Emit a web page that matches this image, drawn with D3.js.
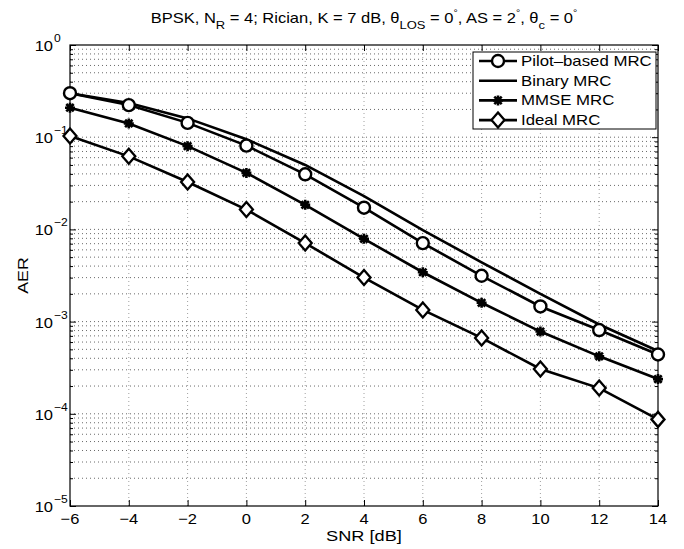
<!DOCTYPE html>
<html>
<head>
<meta charset="utf-8">
<title>AER vs SNR</title>
<script src="https://cdn.jsdelivr.net/npm/d3@7"></script>
<style>
body { margin: 0; background: #fff; }
text { font-family: "Liberation Sans", Arial, sans-serif; fill: #000; }
</style>
</head>
<body>
<div class="container"></div>
<script>
// data
var snr = [-6, -4, -2, 0, 2, 4, 6, 8, 10, 12, 14];
var pilot  = [0.30, 0.223, 0.143, 0.081, 0.0396, 0.0172, 0.0071, 0.00314, 0.00146, 0.00081, 0.00044];
var binary = [0.30, 0.235, 0.160, 0.095, 0.050, 0.023, 0.0098, 0.0044, 0.0020, 0.00093, 0.00048];
var mmse   = [0.209, 0.141, 0.080, 0.041, 0.0185, 0.0079, 0.00343, 0.0016, 0.00078, 0.00042, 0.000238];
var ideal  = [0.103, 0.062, 0.0327, 0.0164, 0.0071, 0.0030, 0.00134, 0.000665, 0.000306, 0.00019, 0.000087];
var xTicks = [-6, -4, -2, 0, 2, 4, 6, 8, 10, 12, 14];
var yExps  = [0, -1, -2, -3, -4, -5];
var legendNames = ["Pilot\u2013based MRC", "Binary MRC", "MMSE MRC", "Ideal MRC"];

var width = 684, height = 549;
var pl = 70, pr = 658, pt = 45, pb = 506;   // plot box edges

var x = d3.scaleLinear().domain([-6, 14]).range([pl, pr]);
var y = d3.scaleLog().domain([1e-5, 1]).range([pb, pt]);

var svg = d3.select(".container").append("svg")
    .attr("width", width)
    .attr("height", height);

var yMajor = yExps.map(function (e) { return Math.pow(10, e); });
var yMinor = [];
yExps.slice(1).forEach(function (e) {
    for (var k = 2; k <= 9; k++) yMinor.push(k * Math.pow(10, e));
});

// grid (dotted), major + minor on y, major on x
var grid = svg.append("g").attr("class", "grid")
    .attr("stroke", "#444").attr("stroke-width", 0.8)
    .attr("stroke-dasharray", "1,3");
grid.selectAll("line.gx").data(xTicks.slice(1, -1)).enter().append("line")
    .attr("x1", function (d) { return x(d); }).attr("x2", function (d) { return x(d); })
    .attr("y1", pt).attr("y2", pb).attr("stroke", "#888");
grid.selectAll("line.gy").data(yMajor.slice(1, -1).concat(yMinor)).enter().append("line")
    .attr("x1", pl).attr("x2", pr)
    .attr("y1", function (d) { return y(d); }).attr("y2", function (d) { return y(d); });

// axes with inward ticks on all sides
function styleAxis(g) {
    g.select(".domain").remove();
    g.selectAll("line").attr("stroke", "#000").attr("stroke-width", 1);
    g.selectAll("text").remove();
}
svg.append("g").attr("transform", "translate(0," + pb + ")")
    .call(d3.axisBottom(x).tickValues(xTicks).tickSize(-6))
    .call(styleAxis);
svg.append("g").attr("transform", "translate(0," + pt + ")")
    .call(d3.axisTop(x).tickValues(xTicks).tickSize(-6))
    .call(styleAxis);
svg.append("g").attr("transform", "translate(" + pl + ",0)")
    .call(d3.axisLeft(y).tickValues(yMajor).tickSize(-6))
    .call(styleAxis);
svg.append("g").attr("transform", "translate(" + pl + ",0)")
    .call(d3.axisLeft(y).tickValues(yMinor).tickSize(-3))
    .call(styleAxis);
svg.append("g").attr("transform", "translate(" + pr + ",0)")
    .call(d3.axisRight(y).tickValues(yMajor).tickSize(-6))
    .call(styleAxis);
svg.append("g").attr("transform", "translate(" + pr + ",0)")
    .call(d3.axisRight(y).tickValues(yMinor).tickSize(-3))
    .call(styleAxis);

// box
svg.append("rect").attr("x", pl).attr("y", pt)
    .attr("width", pr - pl).attr("height", pb - pt)
    .attr("fill", "none").attr("stroke", "#000").attr("stroke-width", 1.2);

// x tick labels
svg.append("g").selectAll("text").data(xTicks).enter().append("text")
    .attr("transform", function (d) { return "translate(" + x(d) + ",524) scale(1.1,1)"; })
    .attr("text-anchor", "middle").style("font-size", "15px")
    .text(function (d) { return d < 0 ? "\u2212" + (-d) : d; });

// y tick labels 10^e
var yl = svg.append("g");
yExps.forEach(function (e) {
    var yy = y(Math.pow(10, e));
    yl.append("text").attr("transform", "translate(53," + (yy + 6) + ") scale(1.1,1)")
        .attr("text-anchor", "end").style("font-size", "15px").text("10");
    yl.append("text").attr("transform", "translate(54," + (yy - 3) + ") scale(1.1,1)")
        .style("font-size", "11px")
        .text(e === 0 ? "0" : "\u2212" + (-e));
});

// axis titles
svg.append("text").attr("transform", "translate(" + ((pl + pr) / 2) + ",541) scale(1.3,1)")
    .attr("text-anchor", "middle").style("font-size", "14px").text("SNR [dB]");
svg.append("text").attr("transform", "translate(28," + ((pt + pb) / 2) + ") rotate(-90) scale(1.27,1)")
    .attr("text-anchor", "middle").style("font-size", "14px").text("AER");

// title with sub/superscripts
var title = svg.append("text")
    .attr("transform", "translate(" + ((pl + pr) / 2) + ",23) scale(1.18,1)")
    .attr("text-anchor", "middle").style("font-size", "14px");
function part(txt, shift, size) {
    var t = title.append("tspan").text(txt);
    if (shift) t.attr("dy", shift);
    if (size) t.style("font-size", size);
    return t;
}
part("BPSK, N");
part("R", 6, "11px");
part(" = 4; Rician, K = 7 dB, \u03b8", -6);
part("LOS", 6, "11px");
part(" = 0", -6);
part("\u00b0", -7, "9px");
part(", AS = 2", 7);
part("\u00b0", -7, "9px");
part(", \u03b8", 7);
part("c", 6, "11px");
part(" = 0", -6);
part("\u00b0", -7, "9px");

// series
var line = d3.line().x(function (d) { return x(d[0]); }).y(function (d) { return y(d[1]); });
function pairs(vals) { return snr.map(function (s, i) { return [s, vals[i]]; }); }

var series = [
    {name: legendNames[0], vals: pilot, marker: "circle"},
    {name: legendNames[1], vals: binary, marker: "none"},
    {name: legendNames[2], vals: mmse, marker: "star"},
    {name: legendNames[3], vals: ideal, marker: "diamond"}
];

function drawMarker(g, type, cx, cy) {
    if (type === "circle") {
        g.append("circle").attr("cx", cx).attr("cy", cy).attr("r", 6)
            .attr("fill", "#fff").attr("stroke", "#000").attr("stroke-width", 2.4);
    } else if (type === "diamond") {
        g.append("path")
            .attr("d", "M" + cx + "," + (cy - 7.5) + "L" + (cx + 6.5) + "," + cy +
                "L" + cx + "," + (cy + 7.5) + "L" + (cx - 6.5) + "," + cy + "Z")
            .attr("fill", "#fff").attr("stroke", "#000").attr("stroke-width", 2.3);
    } else if (type === "star") {
        var r = 5, q = 3.7;
        g.append("path")
            .attr("d", "M" + (cx - r) + "," + cy + "L" + (cx + r) + "," + cy +
                "M" + cx + "," + (cy - r) + "L" + cx + "," + (cy + r) +
                "M" + (cx - q) + "," + (cy - q) + "L" + (cx + q) + "," + (cy + q) +
                "M" + (cx - q) + "," + (cy + q) + "L" + (cx + q) + "," + (cy - q))
            .attr("fill", "none").attr("stroke", "#000").attr("stroke-width", 2.6);
    }
}

var plot = svg.append("g");
series.forEach(function (s) {
    plot.append("path").datum(pairs(s.vals))
        .attr("d", line).attr("fill", "none")
        .attr("stroke", "#000").attr("stroke-width", 2.6);
});
series.forEach(function (s) {
    pairs(s.vals).forEach(function (p) {
        drawMarker(plot, s.marker, x(p[0]), y(p[1]));
    });
});

// legend
var lg = svg.append("g");
lg.append("rect").attr("x", 473).attr("y", 52).attr("width", 183).attr("height", 77)
    .attr("fill", "#fff").attr("stroke", "#000").attr("stroke-width", 1);
series.forEach(function (s, i) {
    var ly = 61 + i * 19.7;
    lg.append("line").attr("x1", 479).attr("x2", 517).attr("y1", ly).attr("y2", ly)
        .attr("stroke", "#000").attr("stroke-width", 2.6);
    drawMarker(lg, s.marker, 498, ly);
    lg.append("text").attr("transform", "translate(521," + (ly + 5) + ") scale(1.2,1)")
        .style("font-size", "14px").text(s.name);
});
</script>
</body>
</html>
